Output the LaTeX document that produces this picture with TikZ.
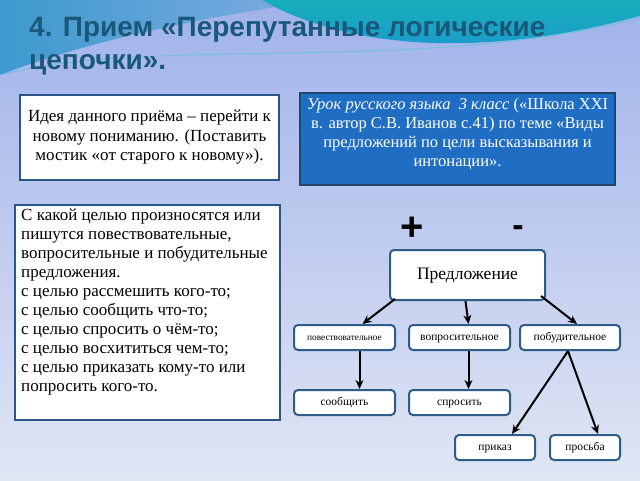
\documentclass[tikz,border=0pt]{standalone}
\usepackage{fontspec}
\setmainfont{Liberation Serif}
\newfontfamily\titlefont{Liberation Sans}
\usetikzlibrary{arrows.meta}
\definecolor{titleblue}{RGB}{26,88,122}
\definecolor{boxedge}{RGB}{45,85,135}
\definecolor{boxblue}{RGB}{32,110,196}
\definecolor{nodeedge}{RGB}{48,92,138}
\definecolor{bgtop}{RGB}{160,178,234}
\definecolor{bgbot}{RGB}{224,230,244}
\definecolor{waveteal}{RGB}{22,174,186}
\definecolor{wavedeep}{RGB}{30,150,210}
\definecolor{cornerblue}{RGB}{60,154,206}
\begin{document}
\begin{tikzpicture}[x=1pt,y=-1pt,
    textbox/.style={draw=boxedge, line width=2pt, fill=white, inner sep=0pt},
    treebox/.style={draw=nodeedge, line width=2pt, fill=white, rounded corners=4pt,
        inner sep=0pt, text height=8pt, text depth=2.5pt, font=\fontsize{11.5}{12}\selectfont},
    link/.style={-{Stealth[length=9pt,width=8pt]}, line width=2pt}]
    %% background of the slide
    \useasboundingbox (0,0) rectangle (640,480);
    \shade[top color=bgtop, bottom color=bgbot] (0,0) rectangle (640,480);
    \shade[left color=cornerblue, right color=bgtop!70!cornerblue]
    (0,0) -- (0,75) .. controls (90,40) and (200,18) .. (320,0) -- cycle;
    \shade[top color=waveteal, bottom color=wavedeep]
    (262,0) .. controls (340,45) and (470,62) .. (640,16) -- (640,0) -- cycle;
    \draw[waveteal!70!white, line width=0.6pt]
    (0,75) .. controls (150,35) and (420,75) .. (640,18);
    
    %% title
    \node[anchor=west, inner sep=0pt, align=left, text=titleblue,
        font=\titlefont\bfseries\fontsize{28}{33}\selectfont] (title) at (29,46)
    {4. Прием «Перепутанные логические\\цепочки».};
    
    %% the three text boxes
    \node[textbox, minimum width=259, minimum height=85, align=center,
        font=\fontsize{17}{19.5}\selectfont] (idea) at (149.5,137.5)
    {Идея данного приёма – перейти к\\новому пониманию. (Поставить\\мостик «от старого к новому»).};
    \node[textbox, draw=boxedge!80!black, fill=boxblue, minimum width=315, minimum height=92] (lesson) at (457.5,139) {};
    \node[align=center, text=white, inner sep=0pt, font=\fontsize{16.5}{19}\selectfont] (lessontext) at (457.5,134)
    {\textit{Урок русского языка\ \ 3 класс} («Школа XXI\\в. автор С.В. Иванов с.41) по теме «Виды\\предложений по цели высказывания и\\интонации».};
    \node[textbox, minimum width=265, minimum height=215] (goal) at (147.5,312.5) {};
    \node[anchor=north west, align=left, inner sep=0pt, font=\fontsize{17}{19}\selectfont]
    (goaltext) at ([shift={(7,5)}]goal.north west)
    {С какой целью произносятся или\\пишутся повествовательные,\\вопросительные и побудительные\\предложения.\\
        с целью рассмешить кого-то;\\с целью сообщить что-то;\\с целью спросить о чём-то;\\
        с целью восхититься чем-то;\\с целью приказать кому-то или\\попросить кого-то.};
    
    %% tree of the kinds of sentences
    \node[font=\titlefont\bfseries\fontsize{40}{40}\selectfont, inner sep=0pt] (plus) at (412,229) {+};
    \node[font=\titlefont\bfseries\fontsize{34}{34}\selectfont, inner sep=0pt] (minus) at (518,231) {-};
    \node[treebox, minimum width=155, minimum height=50, text height=12pt, text depth=3.5pt,
        font=\fontsize{17.5}{18}\selectfont] (sent) at (467.5,275) {Предложение};
    \foreach \n/\x/\y/\w/\t in
    {narr/344.5/337.5/101/{\fontsize{9.3}{10}\selectfont повествовательное},
        ques/459.5/337.5/101/вопросительное,
        incl/570/337.5/100/побудительное,
        tell/344.5/402.5/101/сообщить,
        ask/459.5/402.5/101/спросить,
        order/495/447.5/80/приказ,
        plea/585/447.5/70/просьба
    }
    {
        \node[treebox, minimum width=\w, minimum height=25] (\n) at (\x,\y) {\t};
    };
    \draw[link] ([shift={(6,-2)}]sent.south west) -- ([xshift=18]narr.north);
    \draw[link] ([xshift=-2]sent.south) -- ([xshift=9]ques.north);
    \draw[link] ([shift={(-5,-5)}]sent.south east) -- ([xshift=7]incl.north);
    \draw[link] ([xshift=15]narr.south) -- ([xshift=15]tell.north);
    \draw[link] ([xshift=9]ques.south) -- ([xshift=9]ask.north);
    \draw[link] ([xshift=-2]incl.south) -- ([xshift=17]order.north);
    \draw[link] ([xshift=-2]incl.south) -- ([xshift=13]plea.north);
\end{tikzpicture}
\end{document}
